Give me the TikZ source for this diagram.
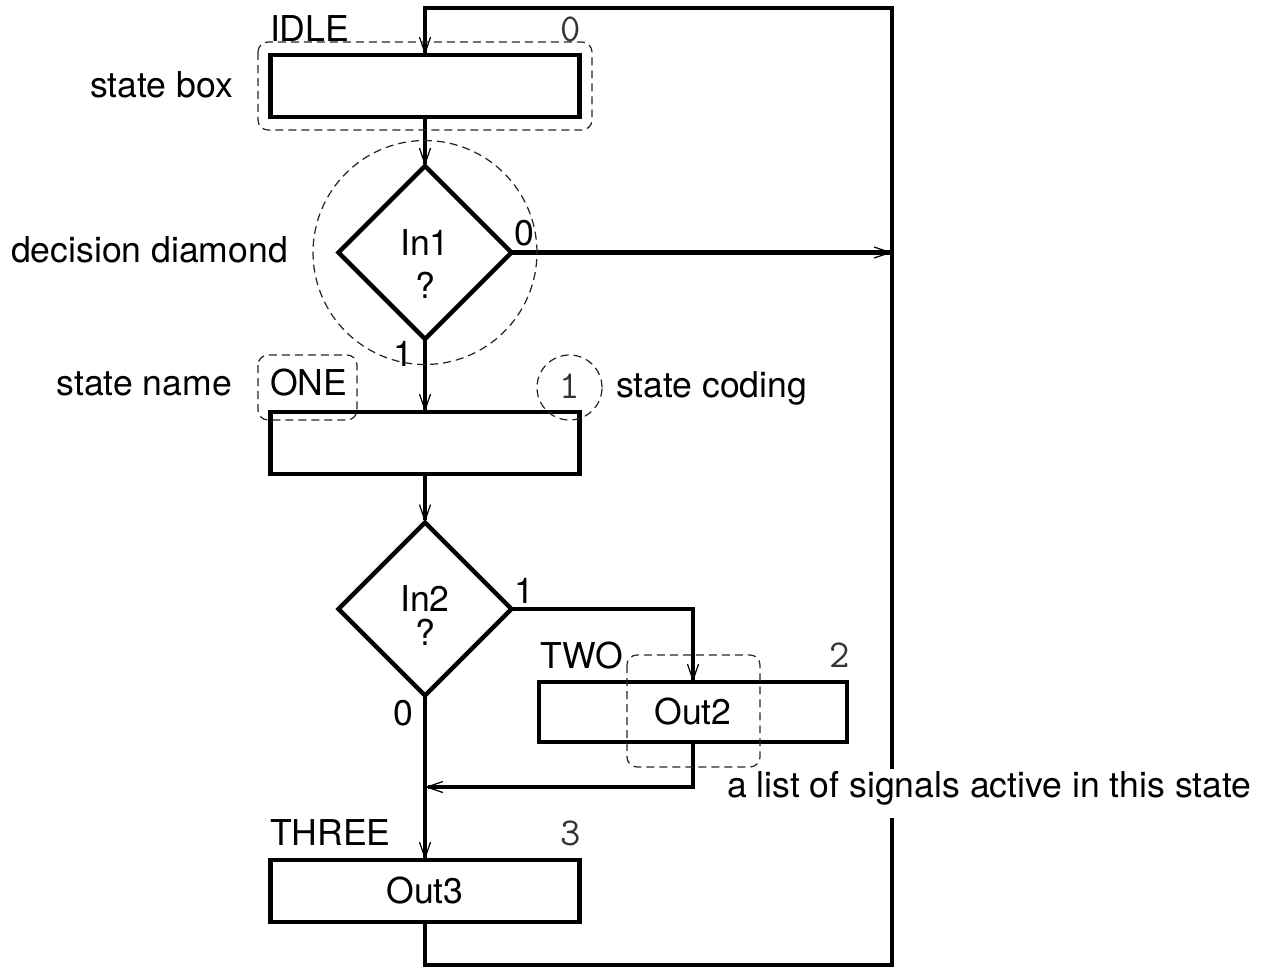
\documentclass[tikz,border=0pt]{standalone}
\usepackage{fontspec}
\setmainfont{TeX Gyre Heros}
\usetikzlibrary{shapes.geometric,arrows.meta}

\begin{document}
\begin{tikzpicture}[x=0.02cm,y=-0.02cm,
  every node/.style={inner sep=0pt, outer sep=0pt},
  lbl/.style={font=\fontsize{20.26}{24}\selectfont},
  code/.style={font=\fontsize{22.5}{26}\selectfont\ttfamily, text=black!80},
  statebox/.style={draw, line width=0.09cm, minimum width=6.18cm, minimum height=1.24cm, lbl},
  decision/.style={draw, diamond, aspect=1, line width=0.09cm, minimum width=3.46cm, minimum height=3.46cm},
  flow/.style={line width=0.09cm, -{Straight Barb[length=0.32cm,width=0.22cm,line width=0.7pt]}},
  note/.style={draw=black!85, line width=0.7pt, dash pattern=on 0.16cm off 0.1cm},
]
\useasboundingbox (0,0) rectangle (1261,968);

% states and decisions
\node[statebox] (idle) at (425,86) {};
\node[decision] (dia1) at (425,252.5) {};
\node[statebox] (one) at (425,443) {};
\node[decision] (dia2) at (425,609) {};
\node[statebox, minimum width=6.16cm, minimum height=1.2cm] (two) at (693,712) {Out2};
\node[statebox] (three) at (425,891) {Out3};

% conditions inside the diamonds
\node[lbl, anchor=base] (in1) at (425,255) {In1};
\node[lbl, anchor=base] (q1) at (425,298) {?};
\node[lbl, anchor=base] (in2) at (425,611) {In2};
\node[lbl, anchor=base] (q2) at (425,645) {?};

% branch values
\node[lbl, anchor=base] (d1no) at (524,245) {0};
\node[lbl, anchor=base] (d1yes) at (403,366) {1};
\node[lbl, anchor=base] (d2yes) at (524,603) {1};
\node[lbl, anchor=base] (d2no) at (403,725) {0};

% state names and codes
\node[lbl, anchor=base west] (idlename) at (270,41) {IDLE};
\node[code, anchor=base] (idlecode) at (571,41.5) {0};
\node[lbl, anchor=base west] (onename) at (270,395) {ONE};
\node[code, anchor=base] (onecode) at (570,398) {1};
\node[lbl, anchor=base west] (twoname) at (540,668) {TWO};
\node[code, anchor=base] (twocode) at (840,667) {2};
\node[lbl, anchor=base west] (threename) at (270,845) {THREE};
\node[code, anchor=base] (threecode) at (571,845) {3};

% flow
\coordinate (loopTR) at (892,8);
\coordinate (loopBR) at (892,965);
\coordinate (merge) at (425,787);
\draw[flow] (idle.south) -- (dia1.north);
\draw[flow] (dia1.east) -- (dia1.east -| loopTR);
\draw[flow] (dia1.south) -- (one.north);
\draw[flow] (one.south) -- (dia2.north);
\draw[flow] (dia2.east) -| (two.north);
\draw[flow] (two.south) |- (merge);
\draw[flow] (dia2.south) -- (three.north);
\draw[flow] (three.south) |- (loopBR) -- (loopTR) -| (idle.north);

% legend texts
\node[lbl, anchor=base east] (boxnote) at (233,97) {state box};
\node[lbl, anchor=base east] (dianote) at (288,262) {decision diamond};
\node[lbl, anchor=base east] (namenote) at (232,395) {state name};
\node[lbl, anchor=base west] (codenote) at (616,397) {state coding};
\node[lbl, anchor=base west, fill=white, text height=0.56cm, text depth=0.42cm] (listnote) at (727,797) {a list of signals active in this state};

% dashed highlights
\draw[note, rounded corners=0.2cm] (258,42) rectangle (592,130);
\draw[note] (425,252.5) circle[radius=2.24cm];
\draw[note, rounded corners=0.2cm] (258,355) rectangle (357,420);
\draw[note] (569.5,387.5) circle[radius=0.65cm];
\draw[note, rounded corners=0.2cm] (627,655) rectangle (760,767);
\end{tikzpicture}
\end{document}
